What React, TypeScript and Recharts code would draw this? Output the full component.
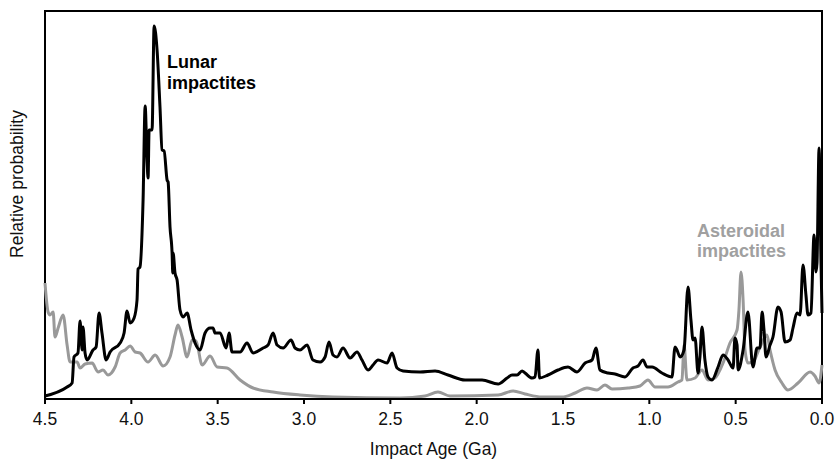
import { Line, LineChart, ReferenceArea, XAxis, YAxis } from "recharts";

// age in Ga, p = relative probability (arbitrary units)
const lunarAge = [
  4.5, 4.372, 4.343, 4.332, 4.309, 4.297, 4.285, 4.28, 4.268, 4.256, 4.222, 4.204, 4.187, 4.17, 4.146,
  4.123, 4.065, 4.042, 4.025, 4.007, 3.984, 3.967, 3.961, 3.95, 3.932, 3.92, 3.909, 3.903, 3.897, 3.88,
  3.868, 3.851, 3.834, 3.822, 3.81, 3.793, 3.787, 3.776, 3.764, 3.76, 3.758, 3.747, 3.735, 3.718, 3.7,
  3.677, 3.654, 3.631, 3.602, 3.573, 3.544, 3.527, 3.515, 3.486, 3.451, 3.434, 3.417, 3.37, 3.33, 3.295,
  3.237, 3.208, 3.179, 3.156, 3.121, 3.075, 3.052, 3.023, 2.982, 2.948, 2.907, 2.878, 2.855, 2.832, 2.809,
  2.774, 2.733, 2.693, 2.664, 2.629, 2.6, 2.571, 2.519, 2.49, 2.461, 2.426, 2.328, 2.241, 2.166, 2.067,
  1.969, 1.876, 1.824, 1.795, 1.766, 1.737, 1.72, 1.679, 1.662, 1.645, 1.636, 1.587, 1.529, 1.471, 1.419,
  1.372, 1.332, 1.309, 1.286, 1.239, 1.199, 1.141, 1.095, 1.066, 1.037, 1.013, 0.984, 0.927, 0.869, 0.851,
  0.84, 0.822, 0.799, 0.776, 0.759, 0.747, 0.735, 0.718, 0.707, 0.695, 0.678, 0.66, 0.637, 0.602, 0.573,
  0.544, 0.515, 0.504, 0.492, 0.486, 0.457, 0.429, 0.4, 0.376, 0.359, 0.347, 0.336, 0.324, 0.301, 0.284,
  0.255, 0.237, 0.214, 0.185, 0.168, 0.145, 0.127, 0.11, 0.093, 0.081, 0.064, 0.046, 0.035, 0.029, 0.017,
  0.006, 0.0,
];
const lunarP = [
  3, 12, 16, 42, 46, 78, 49, 72, 46, 39, 49, 52, 86, 66, 39,
  47, 56, 66, 88, 76, 81, 99, 130, 132, 199, 293, 239, 221, 269, 269,
  373, 349, 292, 249, 248, 219, 217, 172, 146, 126, 146, 126, 119, 89, 82,
  86, 69, 56, 49, 66, 71, 71, 66, 66, 51, 66, 47, 47, 56, 46,
  51, 54, 66, 54, 51, 59, 51, 49, 54, 39, 37, 42, 57, 44, 42,
  51, 41, 47, 39, 29, 34, 39, 36, 46, 31, 28, 27, 28, 24, 19,
  19, 15, 21, 24, 24, 28, 26, 21, 22, 49, 21, 24, 29, 32, 27,
  36, 39, 51, 29, 26, 25, 22, 31, 33, 39, 32, 32, 26, 22, 52,
  49, 42, 49, 112, 79, 59, 61, 26, 42, 72, 39, 22, 19, 32, 44,
  39, 31, 61, 54, 29, 49, 87, 32, 51, 51, 87, 69, 42, 54, 62,
  92, 87, 57, 59, 71, 86, 84, 134, 104, 84, 86, 164, 127, 136, 251,
  139, 86,
];

const asteroidAge = [
  4.5, 4.482, 4.471, 4.453, 4.442, 4.424, 4.395, 4.372, 4.355, 4.314, 4.297, 4.268, 4.227, 4.193, 4.164,
  4.135, 4.094, 4.065, 4.036, 4.007, 3.978, 3.95, 3.903, 3.862, 3.816, 3.776, 3.747, 3.73, 3.706, 3.677,
  3.648, 3.625, 3.59, 3.544, 3.503, 3.446, 3.37, 3.295, 3.179, 3.023, 2.832, 2.444, 2.299, 2.224, 2.154,
  1.876, 1.789, 1.72, 1.622, 1.506, 1.43, 1.361, 1.303, 1.257, 1.216, 1.123, 1.054, 1.008, 0.967, 0.892,
  0.834, 0.811, 0.799, 0.782, 0.735, 0.695, 0.66, 0.62, 0.573, 0.533, 0.492, 0.481, 0.469, 0.457, 0.446,
  0.429, 0.4, 0.359, 0.319, 0.301, 0.272, 0.232, 0.197, 0.139, 0.069, 0.041, 0.017, 0.0,
];
const asteroidP = [
  116, 87, 84, 87, 62, 71, 84, 54, 37, 37, 31, 35, 36, 27, 29,
  24, 32, 46, 49, 53, 47, 46, 37, 44, 33, 42, 64, 74, 62, 42,
  59, 58, 34, 43, 32, 31, 19, 11, 7, 4, 2, 1, 3, 7, 3,
  4, 8, 5, 2, 2, 6, 11, 9, 14, 10, 11, 13, 19, 12, 12,
  17, 19, 54, 19, 21, 29, 19, 21, 36, 56, 69, 89, 127, 99, 49,
  36, 37, 52, 64, 49, 29, 16, 9, 16, 27, 23, 16, 34,
];

const ageTicks = [4.5, 4.0, 3.5, 3.0, 2.5, 2.0, 1.5, 1.0, 0.5, 0.0];
const yMax = 388;

const lunar = lunarAge.map((age, i) => ({ age, p: lunarP[i] }));
const asteroid = asteroidAge.map((age, i) => ({ age, p: asteroidP[i] }));

const FONT = "Arial, 'Liberation Sans', sans-serif";

export default function App() {
  return (
    <div style={{ position: "absolute", left: 0, top: 0, width: 835, height: 461, background: "#fff", fontFamily: FONT }}>
      <LineChart width={835} height={461} margin={{ top: 11, right: 13, bottom: 0, left: 45 }}>
        <XAxis
          dataKey="age"
          type="number"
          domain={[0, 4.5]}
          reversed
          ticks={ageTicks}
          tickFormatter={(v: number) => v.toFixed(1)}
          height={62}
          stroke="#000"
          strokeWidth={2}
          tickSize={5}
          tickMargin={9}
          tick={{ fill: "#111", fontSize: 17.5, fontFamily: FONT }}
          label={{ value: "Impact Age (Ga)", position: "insideBottom", offset: 6, fill: "#111", fontSize: 17.5, fontFamily: FONT }}
        />
        <YAxis type="number" domain={[0, yMax]} width={0} tick={false} tickLine={false} axisLine={false} />
        <ReferenceArea x1={4.5} x2={0} y1={0} y2={yMax} fill="none" stroke="#000" strokeWidth={2} ifOverflow="visible" />
        <Line data={asteroid} dataKey="p" type="monotone" stroke="#999" strokeWidth={3} dot={false} isAnimationActive={false} />
        <Line data={lunar} dataKey="p" type="monotone" stroke="#000" strokeWidth={3} dot={false} isAnimationActive={false} />
      </LineChart>
      <svg width={835} height={461} style={{ position: "absolute", left: 0, top: 0, pointerEvents: "none" }}>
        <text x={23} y={184} transform="rotate(-90 23 184)" textAnchor="middle" fontSize={17.5} fill="#111" fontFamily={FONT}>
          Relative probability
        </text>
        <text x={167} y={68} fontSize={18} fontWeight="bold" fill="#000" fontFamily={FONT}>Lunar</text>
        <text x={167} y={89} fontSize={18} fontWeight="bold" fill="#000" fontFamily={FONT}>impactites</text>
        <text x={697} y={237} fontSize={18} fontWeight="bold" fill="#a0a0a0" fontFamily={FONT}>Asteroidal</text>
        <text x={697} y={257} fontSize={18} fontWeight="bold" fill="#a0a0a0" fontFamily={FONT}>impactites</text>
      </svg>
    </div>
  );
}
